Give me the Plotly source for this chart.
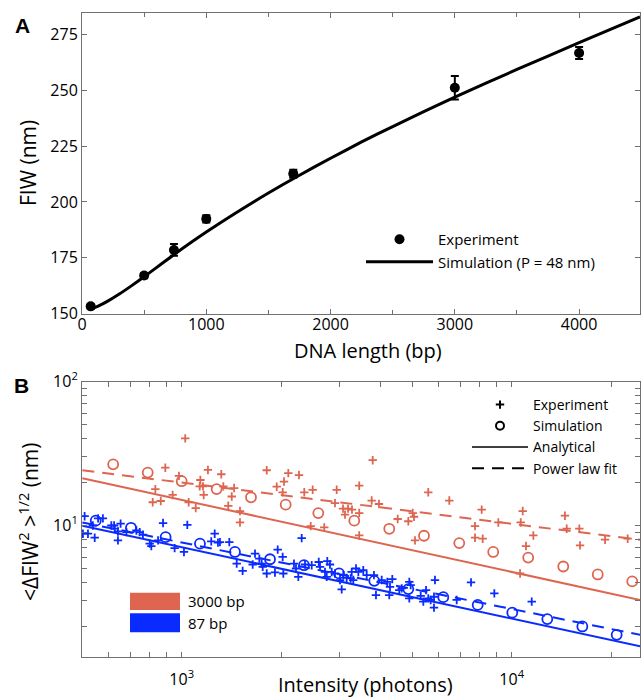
import plotly.graph_objects as go

# ---------------- Panel A data ----------------
dna_length_exp = [70, 500, 740, 1000, 1700, 3000, 4000]
fiw_exp = [153.2, 167.0, 178.5, 192.4, 212.6, 251.2, 266.8]
fiw_err = [1.0, 1.2, 2.6, 1.6, 1.8, 5.3, 2.7]

dna_length_sim = [60, 130, 200, 300, 400, 500, 750, 1000, 1250, 1500, 1750, 2000,
                  2250, 2500, 2750, 3000, 3500, 4000, 4490]
fiw_sim = [151.7, 153.3, 155.3, 158.7, 162.5, 166.5, 176.8, 186.5, 195.5, 204.0, 212.0,
           219.6, 226.9, 233.8, 240.5, 247.0, 259.4, 271.4, 283.0]

# ---------------- Panel B data ----------------
intensity_3000_exp = [1025, 892, 1201, 1318, 981, 1139, 1134, 1160, 832, 1166,
                      939, 817, 864, 1050, 1103, 1810, 2104, 2267, 2042, 1941,
                      1337, 1441, 2494, 2949, 3451, 2023, 2352, 1418, 2914, 3082,
                      3192, 3281, 3125, 3451, 1384, 1502, 1502, 2460, 2704, 3451,
                      3792, 5587, 6470, 3765, 3962, 8111, 5012, 5058, 4862, 4513,
                      7742, 9109, 7742, 8168, 5093, 10800, 10650, 14500, 14680, 16030,
                      11630, 11050, 16110, 19180, 22460, 10600]
fiw_3000_exp = [40.3, 25.2, 24.3, 22.7, 22.1, 20.7, 18.7, 18.7, 17.9, 16.3,
                16.3, 14.5, 14.8, 14.5, 13.2, 24.2, 23.1, 22.4, 20.2, 18.6,
                18.7, 18.2, 17.7, 17.7, 18.9, 17.0, 17.0, 15.9, 14.3, 13.1,
                13.1, 12.9, 11.9, 12.2, 13.7, 12.6, 10.5, 9.9, 9.7, 8.53,
                28.4, 17.0, 14.9, 14.9, 14.1, 12.9, 12.2, 11.5, 10.7, 11.1,
                9.9, 10.5, 8.23, 8.1, 7.88, 12.6, 10.5, 11.7, 9.5, 9.5,
                8.53, 7.2, 7.28, 7.97, 8.1, 4.64]

intensity_87_exp = [508, 558, 577, 502, 520, 545, 538, 612, 624, 653,
                    627, 641, 641, 680, 729, 746, 763, 878, 800, 809,
                    848, 952, 1016, 1040, 1259, 1229, 1288, 1394, 1306, 2310,
                    1468, 1530, 1668, 1641, 1719, 1747, 1760, 1810, 1917, 1954,
                    2023, 2032, 2189, 2220, 2256, 2364, 2477, 2602, 2625, 2762,
                    2814, 2718, 2751, 2848, 2914, 3088, 3162, 3018, 3054, 3275,
                    3375, 3430, 3252, 3311, 3550, 3636, 3825, 4037, 4198, 4347,
                    3879, 4278, 4256, 4564, 4642, 4895, 4942, 4895, 5300, 5397,
                    5500, 5587, 5681, 5855, 5814, 5814, 6813, 7529, 8858, 11500]
fiw_87_exp = [11.6, 11.2, 11.2, 8.77, 8.77, 8.23, 10.0, 10.0, 10.0, 10.3,
              9.5, 9.09, 7.88, 8.99, 9.24, 8.99, 8.63, 10.4, 7.48, 7.2,
              7.88, 6.97, 6.55, 10.1, 8.77, 7.76, 7.6, 7.67, 7.67, 8.17,
              5.44, 4.84, 6.38, 5.36, 5.89, 5.44, 5.16, 4.64, 4.72, 6.8,
              6.05, 4.64, 5.44, 5.03, 4.4, 5.36, 5.3, 5.58, 5.16, 5.65,
              5.36, 4.76, 4.4, 4.76, 4.64, 4.52, 4.33, 4.18, 3.6, 4.76,
              5.03, 4.76, 4.29, 4.18, 4.89, 4.52, 4.52, 4.18, 4.06, 4.24,
              3.29, 3.75, 3.29, 3.56, 3.66, 4.06, 3.86, 3.12, 3.25, 2.96,
              3.56, 3.12, 3.04, 4.18, 2.69, 3.2, 3.04, 4.03, 3.38, 2.96]

intensity_3000_sim = [620, 789, 1000, 1276, 1622, 2066, 2594, 3334, 4256, 5423,
                      6936, 8790, 11220, 14330, 18230, 23190]
fiw_3000_sim = [26.6, 23.3, 20.3, 17.9, 15.7, 13.95, 12.2, 10.8, 9.49, 8.49,
                7.55, 6.55, 5.99, 5.19, 4.57, 4.09]
intensity_87_sim = [549, 702, 894, 1136, 1450, 1852, 2348, 2998, 3833, 4861,
                    6204, 7888, 10040, 12820, 16370, 20800]
fiw_87_sim = [10.8, 9.64, 8.30, 7.48, 6.55, 5.83, 5.30, 4.65, 4.13, 3.62,
              3.18, 2.81, 2.48, 2.24, 1.99, 1.74]

intensity_fit = [500, 24500]
fiw_3000_analytical = [21.3, 3.04]
fiw_3000_powerlaw = [24.2, 7.96]
fiw_87_analytical = [9.95, 1.45]
fiw_87_powerlaw = [10.5, 1.74]

# tick definitions
a_xticks = [0, 1000, 2000, 3000, 4000]
a_yticks = [150, 175, 200, 225, 250, 275]
b_xticks = [1000, 10000]
b_xlabels = ["10<sup>3</sup>", "10<sup>4</sup>"]
b_xminor = [600, 700, 800, 900, 2000, 3000, 4000, 5000, 6000, 7000, 8000, 9000, 20000]
b_yticks = [10, 100]
b_ylabels = ["10<sup>1</sup>", "10<sup>2</sup>"]
b_yminor = [2, 3, 4, 5, 6, 7, 8, 9, 20, 30, 40, 50, 60, 70, 80, 90]

RED = "#DE6651"
BLUE = "#0A2BFF"
AXC = "#707070"
FONT = "Open Sans"
W, H = 641, 698

fig = go.Figure()

# Panel A
fig.add_trace(go.Scatter(x=dna_length_sim, y=fiw_sim, mode="lines",
                         line=dict(color="black", width=3, shape="spline", smoothing=0.6),
                         name="Simulation (P = 48 nm)", xaxis="x", yaxis="y", legend="legend"))
fig.add_trace(go.Scatter(x=dna_length_exp, y=fiw_exp, mode="markers",
                         marker=dict(color="black", size=10),
                         error_y=dict(type="data", array=fiw_err, color="black", thickness=2, width=4),
                         name="Experiment", xaxis="x", yaxis="y", legend="legend"))

# Panel B lines
for yv, col, dash in [(fiw_3000_analytical, RED, "solid"), (fiw_3000_powerlaw, RED, "12px,8px"),
                      (fiw_87_analytical, BLUE, "solid"), (fiw_87_powerlaw, BLUE, "12px,8px")]:
    fig.add_trace(go.Scatter(x=intensity_fit, y=yv, mode="lines",
                             line=dict(color=col, width=2, dash=dash),
                             showlegend=False, xaxis="x2", yaxis="y2"))
# Panel B markers
for xv, yv, col in [(intensity_3000_exp, fiw_3000_exp, RED), (intensity_87_exp, fiw_87_exp, BLUE)]:
    fig.add_trace(go.Scatter(x=xv, y=yv, mode="markers",
                             marker=dict(symbol="cross-thin", size=6, line=dict(color=col, width=1.8)),
                             showlegend=False, xaxis="x2", yaxis="y2"))
for xv, yv, col in [(intensity_3000_sim, fiw_3000_sim, RED), (intensity_87_sim, fiw_87_sim, BLUE)]:
    fig.add_trace(go.Scatter(x=xv, y=yv, mode="markers",
                             marker=dict(symbol="circle-open", size=10, color=col, line=dict(color=col, width=1.8)),
                             showlegend=False, xaxis="x2", yaxis="y2"))

# Panel B legend entries
fig.add_trace(go.Scatter(x=[None], y=[None], mode="markers", name="Experiment",
                         marker=dict(symbol="cross-thin", size=6, line=dict(color="black", width=2)),
                         xaxis="x2", yaxis="y2", legend="legend2"))
fig.add_trace(go.Scatter(x=[None], y=[None], mode="markers", name="Simulation",
                         marker=dict(symbol="circle-open", size=8, color="black", line=dict(color="black", width=2)),
                         xaxis="x2", yaxis="y2", legend="legend2"))
fig.add_trace(go.Scatter(x=[None], y=[None], mode="lines", name="Analytical",
                         line=dict(color="black", width=1.5),
                         xaxis="x2", yaxis="y2", legend="legend2"))
fig.add_trace(go.Scatter(x=[None], y=[None], mode="lines", name="Power law fit",
                         line=dict(color="black", width=2, dash="12px,8px"),
                         xaxis="x2", yaxis="y2", legend="legend2"))

def px(x):
    return x / W

def py(y):
    return 1 - y / H

axis_common = dict(showline=True, linecolor=AXC, linewidth=1, mirror="ticks", ticks="inside",
                   ticklen=5, tickcolor=AXC, showgrid=False, zeroline=False, automargin=False,
                   tickfont=dict(family=FONT, size=16, color="black"))

fig.update_layout(
    width=W, height=H, margin=dict(l=0, r=0, t=0, b=0, autoexpand=False),
    paper_bgcolor="white", plot_bgcolor="white",
    font=dict(family=FONT, color="black"),
    xaxis=dict(domain=[px(82), px(640)], range=[0, 4490], tickvals=a_xticks,
               minor=dict(dtick=500, tick0=0, ticks="inside", ticklen=4, tickcolor=AXC),
               ticklabelstandoff=-4, anchor="y", **axis_common),
    yaxis=dict(domain=[py(313.5), py(13)], range=[150, 284.7], tickvals=a_yticks,
               anchor="x", **axis_common),
    xaxis2=dict(domain=[px(82), px(640)], type="log", range=[2.6979, 4.3888],
                tickvals=b_xticks, ticktext=b_xlabels, ticklabelstandoff=8, anchor="y2",
                minor=dict(tickmode="array", tickvals=b_xminor, ticks="inside", ticklen=5,
                           tickcolor=AXC, showgrid=False),
                **axis_common),
    yaxis2=dict(domain=[py(656.5), py(381.5)], type="log", range=[0.0903, 2.0],
                tickvals=b_yticks, ticktext=b_ylabels, anchor="x2",
                minor=dict(tickmode="array", tickvals=b_yminor, ticks="inside", ticklen=5,
                           tickcolor=AXC, showgrid=False),
                **axis_common),
    legend=dict(x=px(361), y=py(223), xanchor="left", yanchor="top", bgcolor="rgba(0,0,0,0)",
                font=dict(family=FONT, size=15), itemwidth=67, traceorder="reversed"),
    legend2=dict(x=px(467), y=py(389), xanchor="left", yanchor="top", bgcolor="rgba(0,0,0,0)",
                 font=dict(family=FONT, size=14), itemwidth=56),
    showlegend=True,
)

shapes = [
    dict(type="rect", xref="paper", yref="paper", x0=px(130), x1=px(180), y0=py(610), y1=py(592.7),
         fillcolor=RED, line=dict(width=0)),
    dict(type="rect", xref="paper", yref="paper", x0=px(130), x1=px(180), y0=py(632.3), y1=py(613.3),
         fillcolor=BLUE, line=dict(width=0)),
]
fig.update_layout(shapes=shapes)

annotations = [
    dict(text="<b>A</b>", x=px(22), y=py(25), font=dict(family="Liberation Sans", size=21)),
    dict(text="<b>B</b>", x=px(21), y=py(385), font=dict(family="Liberation Sans", size=21)),
    dict(text="DNA length (bp)", x=px(368), y=py(350), font=dict(family=FONT, size=20)),
    dict(text="FIW (nm)", x=px(28), y=py(163), textangle=-90, font=dict(family=FONT, size=21)),
    dict(text="Intensity (photons)", x=px(365), y=py(684), font=dict(family=FONT, size=20)),
    dict(text="&lt;ΔFIW<sup>2</sup> &gt;<sup>1/2</sup> (nm)", x=px(28), y=py(522), textangle=-90,
         font=dict(family=FONT, size=21)),
    dict(text="3000 bp", x=px(186), y=py(601), xanchor="left", font=dict(family=FONT, size=15)),
    dict(text="87 bp", x=px(186), y=py(623), xanchor="left", font=dict(family=FONT, size=15)),
]
for a in annotations:
    a.setdefault("xanchor", "center")
    a.update(xref="paper", yref="paper", yanchor="middle", showarrow=False)
fig.update_layout(annotations=annotations)

fig.write_html("out.html", config={"displayModeBar": False},
               post_script="document.body.style.margin='0';")
